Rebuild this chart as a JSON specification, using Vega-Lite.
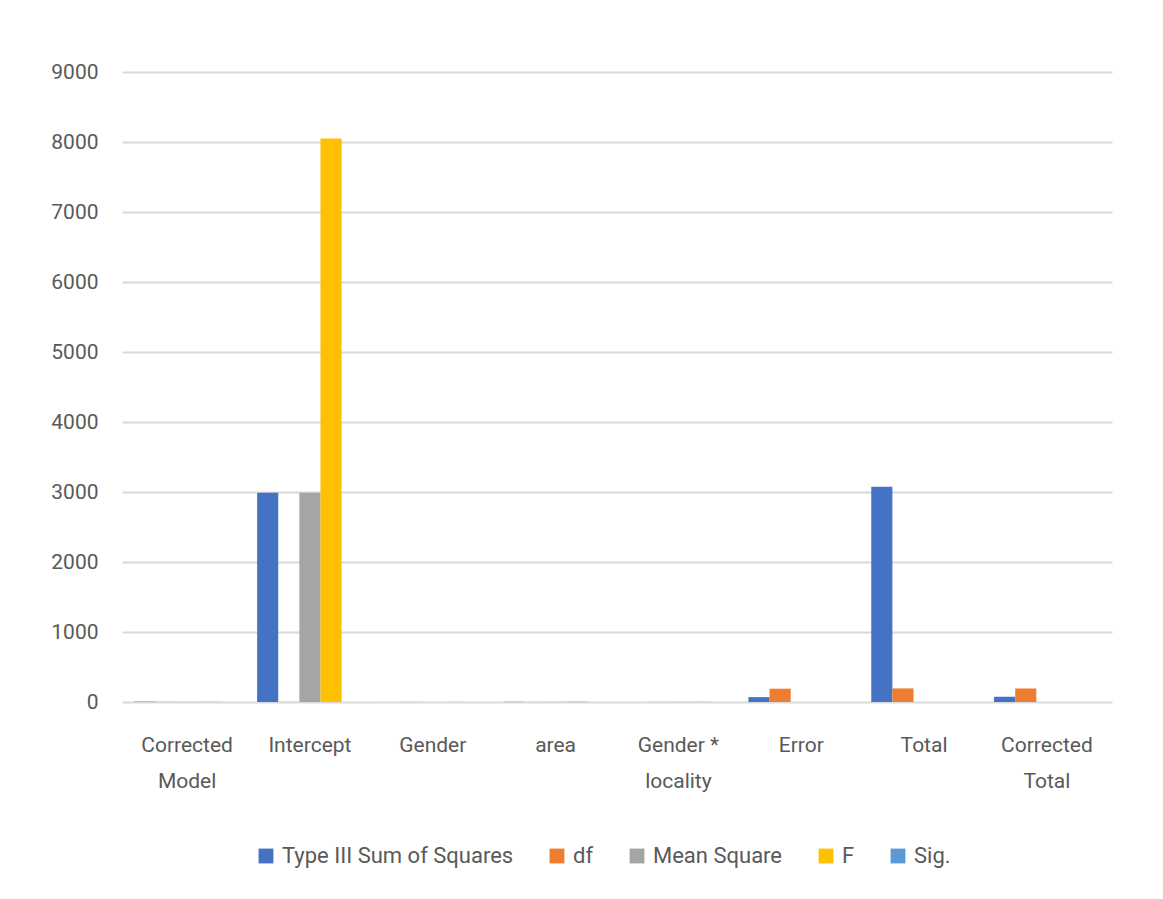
{
  "$schema": "https://vega.github.io/schema/vega-lite/v6.json",
  "width": 990,
  "height": 630,
  "autosize": {"type": "none"},
  "padding": {"left": 122, "top": 72, "right": 51, "bottom": 197},
  "background": "white",
  "data": {
    "values": [
      {"source": "Corrected Model", "statistic": "Type III Sum of Squares", "value": 5},
      {"source": "Corrected Model", "statistic": "df", "value": 3},
      {"source": "Corrected Model", "statistic": "Mean Square", "value": 1.7},
      {"source": "Corrected Model", "statistic": "F", "value": 4.5},
      {"source": "Corrected Model", "statistic": "Sig.", "value": 0.005},
      {"source": "Intercept", "statistic": "Type III Sum of Squares", "value": 2990},
      {"source": "Intercept", "statistic": "df", "value": 1},
      {"source": "Intercept", "statistic": "Mean Square", "value": 2990},
      {"source": "Intercept", "statistic": "F", "value": 8050},
      {"source": "Intercept", "statistic": "Sig.", "value": 0},
      {"source": "Gender", "statistic": "Type III Sum of Squares", "value": 0.5},
      {"source": "Gender", "statistic": "df", "value": 1},
      {"source": "Gender", "statistic": "Mean Square", "value": 0.5},
      {"source": "Gender", "statistic": "F", "value": 1.4},
      {"source": "Gender", "statistic": "Sig.", "value": 0.24},
      {"source": "area", "statistic": "Type III Sum of Squares", "value": 2.8},
      {"source": "area", "statistic": "df", "value": 1},
      {"source": "area", "statistic": "Mean Square", "value": 2.8},
      {"source": "area", "statistic": "F", "value": 7.6},
      {"source": "area", "statistic": "Sig.", "value": 0.006},
      {"source": "Gender * locality", "statistic": "Type III Sum of Squares", "value": 1.6},
      {"source": "Gender * locality", "statistic": "df", "value": 1},
      {"source": "Gender * locality", "statistic": "Mean Square", "value": 1.6},
      {"source": "Gender * locality", "statistic": "F", "value": 4.3},
      {"source": "Gender * locality", "statistic": "Sig.", "value": 0.04},
      {"source": "Error", "statistic": "Type III Sum of Squares", "value": 70},
      {"source": "Error", "statistic": "df", "value": 190},
      {"source": "Error", "statistic": "Mean Square", "value": 0.37},
      {"source": "Total", "statistic": "Type III Sum of Squares", "value": 3075},
      {"source": "Total", "statistic": "df", "value": 194},
      {"source": "Corrected Total", "statistic": "Type III Sum of Squares", "value": 75},
      {"source": "Corrected Total", "statistic": "df", "value": 193}
    ]
  },
  "mark": {"type": "bar"},
  "encoding": {
    "x": {
      "field": "source",
      "type": "nominal",
      "sort": ["Corrected Model", "Intercept", "Gender", "area", "Gender * locality", "Error", "Total", "Corrected Total"],
      "scale": {"paddingInner": 0.14, "paddingOuter": 0.1},
      "axis": {
        "title": null,
        "labelAngle": 0,
        "domain": false,
        "ticks": false,
        "labelPadding": 32,
        "labelFont": "Roboto",
        "labelFontSize": 21,
        "labelColor": "#595959",
        "labelLineHeight": 36,
        "labelBaseline": "top",
        "labelExpr": "datum.value == 'Corrected Model' ? ['Corrected', 'Model'] : datum.value == 'Gender * locality' ? ['Gender *', 'locality'] : datum.value == 'Corrected Total' ? ['Corrected', 'Total'] : datum.value"
      }
    },
    "xOffset": {
      "field": "statistic",
      "type": "nominal",
      "sort": ["Type III Sum of Squares", "df", "Mean Square", "F", "Sig."],
      "scale": {"paddingInner": 0, "paddingOuter": 0}
    },
    "y": {
      "field": "value",
      "type": "quantitative",
      "scale": {"domain": [0, 9000], "nice": false},
      "axis": {
        "title": null,
        "values": [0, 1000, 2000, 3000, 4000, 5000, 6000, 7000, 8000, 9000],
        "format": "d",
        "domain": false,
        "ticks": false,
        "labelPadding": 24,
        "labelFont": "Roboto",
        "labelFontSize": 21,
        "labelColor": "#595959",
        "gridColor": "#d9d9d9",
        "gridWidth": 2
      }
    },
    "color": {
      "field": "statistic",
      "type": "nominal",
      "sort": ["Type III Sum of Squares", "df", "Mean Square", "F", "Sig."],
      "scale": {
        "domain": ["Type III Sum of Squares", "df", "Mean Square", "F", "Sig."],
        "range": ["#4472C4", "#ED7D31", "#A5A5A5", "#FFC000", "#5B9BD5"]
      },
      "legend": {
        "title": null,
        "orient": "none",
        "direction": "horizontal",
        "legendX": 133,
        "legendY": 773,
        "symbolType": "square",
        "symbolSize": 220,
        "symbolStrokeWidth": 0,
        "labelFont": "Roboto",
        "labelFontSize": 22,
        "labelColor": "#595959",
        "labelLimit": 400,
        "columnPadding": 32,
        "labelOffset": 5
      }
    }
  },
  "config": {
    "view": {"stroke": null}
  }
}
